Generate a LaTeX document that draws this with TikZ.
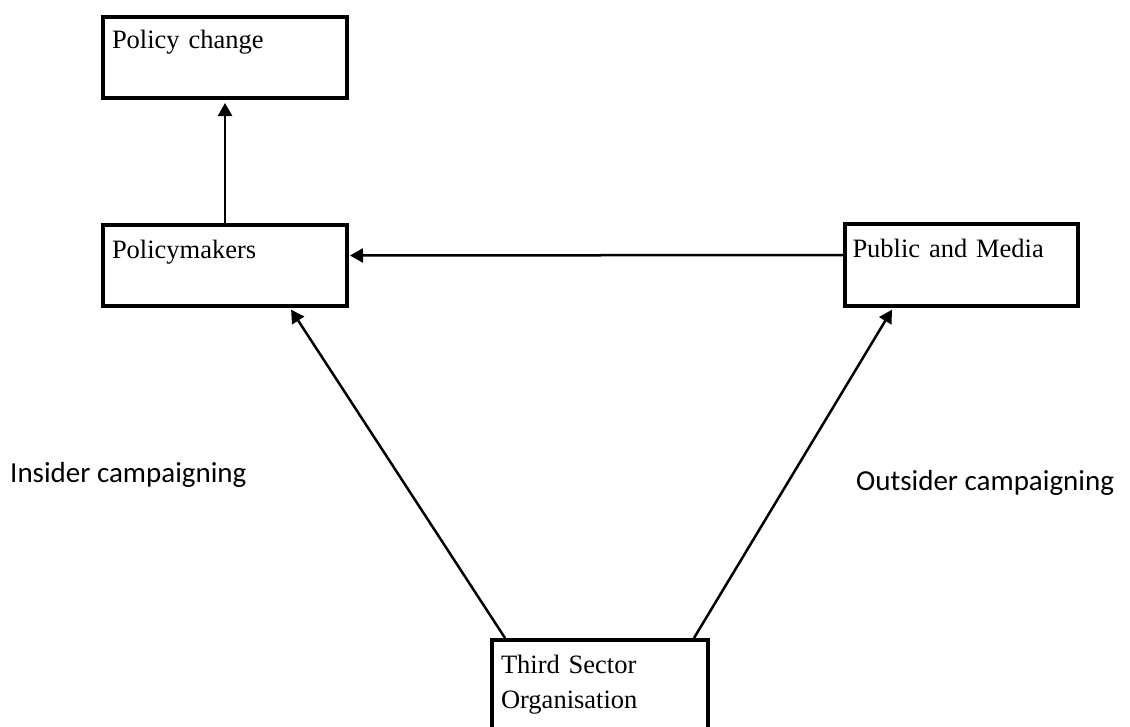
\documentclass[tikz,border=0pt]{standalone}
\usepackage{fontspec}
\setmainfont{Liberation Serif}
\newfontfamily\labelfont{Carlito}
\usetikzlibrary{arrows.meta}

\begin{document}
\begin{tikzpicture}[x=1pt, y=-1pt,
  box/.style={draw=black, line width=4pt, fill=white, rectangle,
    anchor=north west, inner ysep=0pt, align=left,
    font=\fontsize{26.5}{35}\selectfont},
  arr/.style={line width=2.5pt, -{Triangle[length=13pt,width=14pt]}},
  campaign/.style={anchor=base west, inner sep=0pt,
    font=\labelfont\fontsize{29}{35}\selectfont}]

\useasboundingbox (0,0) rectangle (1130,726);

% boxes
\node[box, inner xsep=9pt, text width=226pt, text height=31pt, text depth=50pt]
  (pc) at (101,15) {Policy change};
\node[box, inner xsep=9pt, text width=226pt, text height=33pt, text depth=48pt]
  (pm) at (101,223) {Policymakers};
\node[box, inner xsep=7.5pt, text width=218pt, text height=33pt, text depth=49pt]
  (pmd) at (843,222) {Public and Media};
\node[box, inner xsep=9pt, text width=198pt, text height=33pt, text depth=70pt]
  (ts) at (490,638) {Third Sector\\Organisation};

% connectors
\draw[arr, shorten >=3pt] (pm.north) -- (pc.south);
\draw[arr, shorten >=1pt] ([yshift=10pt]pmd.west) -- ([yshift=10pt]pm.east);
\draw[arr, shorten >=2pt] ([xshift=15pt]ts.north west) -- ([xshift=-59pt]pm.south east);
\draw[arr, shorten >=2pt] ([xshift=-16pt]ts.north east) -- ([xshift=50pt]pmd.south west);

% route labels
\node[campaign] (ins) at (10,482) {Insider campaigning};
\node[campaign] (out) at (856,490) {Outsider campaigning};
\end{tikzpicture}
\end{document}
